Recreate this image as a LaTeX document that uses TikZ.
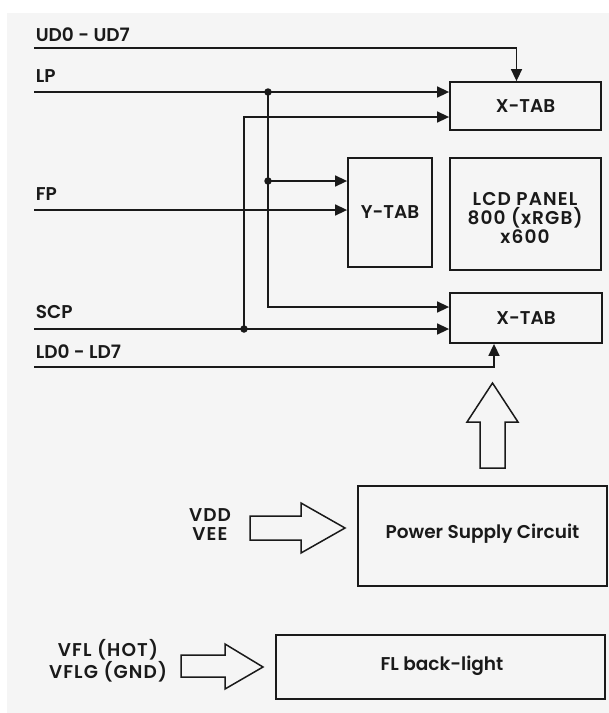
\documentclass[tikz,border=0pt]{standalone}
\usepackage{fontspec}
\setmainfont{Poppins SemiBold}
\newfontfamily\widefont{Poppins SemiBold}[LetterSpace=6]
\usetikzlibrary{arrows.meta,calc}
\definecolor{bggray}{HTML}{F5F5F5}
\definecolor{ink}{HTML}{1A1A1A}
\begin{document}
\begin{tikzpicture}[x=1pt,y=-1pt, line width=1.6pt, draw=ink,
  txt/.style={font=\fontsize{18.5}{18.5}\selectfont, text=ink},
  wtxt/.style={font=\widefont\fontsize{18.5}{19}\selectfont, text=ink},
  box/.style={draw=ink, line width=1.8pt, inner sep=0pt, align=center, txt},
  lbl/.style={anchor=base west, inner sep=0pt, txt},
  sig/.style={-{Triangle[length=12pt,width=11pt]}},
  jdot/.style={circle, fill=ink, inner sep=0pt, minimum size=7.5pt},
  hollow/.style={draw=ink, line width=1.5pt, line join=miter}]
\useasboundingbox (0,0) rectangle (609,713);
\fill[bggray] (7,13) rectangle (609,713);

% boxes
\node[box, minimum width=151pt, minimum height=48pt] (xtabA) at (525.5,106) {X-TAB};
\node[box, minimum width=84pt, minimum height=109pt] (ytab) at (390,212.5) {Y-TAB};
\node[box, minimum width=151pt, minimum height=112pt] (lcd) at (525.5,214) {};
\node[wtxt, align=center, inner sep=0pt] (lcdt) at (525,218) {LCD PANEL\\800 (xRGB)\\x600};
\node[box, minimum width=152pt, minimum height=50pt] (xtabB) at (526,318) {X-TAB};
\node[box, minimum width=249pt, minimum height=100pt] (psc) at (482.5,536) {};
\node[txt, inner sep=0pt] (psct) at (482.5,534) {Power Supply Circuit};
\node[box, minimum width=329pt, minimum height=64pt] (fl) at (440.5,667) {};
\node[txt, inner sep=0pt] (flt) at (442,666) {FL back-light};

% labels
\node[lbl] (tud) at (35,41) {UD0 - UD7};
\node[lbl] (tlp) at (35,82) {LP};
\node[lbl] (tfp) at (35,200) {FP};
\node[lbl] (tscp) at (35,318) {SCP};
\node[lbl] (tld) at (35,358) {LD0 - LD7};
\node[wtxt, align=center, inner sep=0pt] (tvdd) at (210,525) {VDD\\VEE};
\node[wtxt, align=center, inner sep=0pt] (tvfl) at (108,661) {VFL (HOT)\\VFLG (GND)};

% signal start points
\coordinate (ud) at (34,48);
\coordinate (lp) at (34,92);
\coordinate (fp) at (34,210);
\coordinate (scp) at (34,329);
\coordinate (ld) at (34,367);
\coordinate (jLP) at (268,92);
\coordinate (jY) at (268,181);
\coordinate (jSCP) at (244,329);

% connectors
\draw[sig] (ud) -| ([xshift=-9pt]xtabA.north);
\draw[sig] (lp) -- (lp -| xtabA.west);
\draw[sig] (jSCP) |- ([yshift=-11pt]xtabA.west);
\draw[sig] (jLP) |- ([yshift=11pt]xtabB.west);
\draw[sig] (jY) -- (jY -| ytab.west);
\draw[sig] (fp) -- (fp -| ytab.west);
\draw[sig] (scp) -- (scp -| xtabB.west);
\draw[sig] (ld) -| ([xshift=-32pt]xtabB.south);

\node[jdot] (dLP) at (jLP) {};
\node[jdot] (dY) at (jY) {};
\node[jdot] (dSCP) at (jSCP) {};

% hollow arrows
\draw[hollow] (492.5,383) -- (518,422) -- (505,422) -- (505,468) -- (480,468) -- (480,422) -- (467,422) -- cycle;
\draw[hollow] (345,528) -- (301,553) -- (301,540) -- (250,540) -- (250,516) -- (301,516) -- (301,503) -- cycle;
\draw[hollow] (263,667) -- (225,689) -- (225,677) -- (181,677) -- (181,655) -- (225,655) -- (225,644) -- cycle;
\end{tikzpicture}
\end{document}
